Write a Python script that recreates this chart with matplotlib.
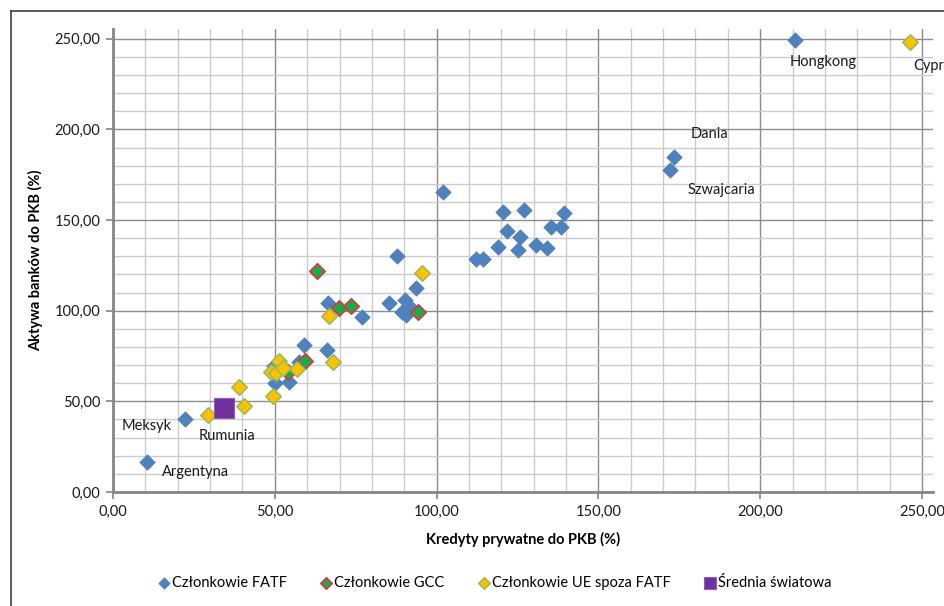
import numpy as np
import matplotlib
matplotlib.use('Agg')
from matplotlib import pyplot as plt
from matplotlib.lines import Line2D
from matplotlib.ticker import MultipleLocator, FuncFormatter

plt.rcParams['font.family'] = ['Lato', 'DejaVu Sans']

# Kredyty prywatne do PKB (%) / Aktywa banków do PKB (%)
fatf_x = [210.8, 173.3, 172.0, 10.4, 22.4, 102.0, 120.6, 126.9, 139.5, 121.7,
          125.7, 135.5, 138.4, 118.9, 125.2, 130.8, 134.0, 112.2, 114.3, 87.8,
          93.7, 85.3, 90.1, 89.4, 92.2, 90.6, 66.3, 76.9, 59.0, 66.0,
          57.5, 49.7, 50.0, 54.4]
fatf_y = [249.4, 184.8, 177.5, 16.4, 40.1, 165.4, 154.5, 155.3, 153.8, 144.2,
          140.9, 146.4, 146.4, 135.0, 133.7, 136.1, 134.7, 128.4, 128.4, 130.4,
          112.6, 104.1, 106.0, 99.5, 101.4, 97.7, 104.1, 96.6, 81.1, 78.2,
          71.6, 69.7, 60.0, 60.5]

gcc_x = [63.1, 69.8, 73.5, 94.4, 59.3, 54.0]
gcc_y = [121.8, 101.4, 102.6, 99.5, 72.3, 66.4]

ue_x = [246.4, 95.6, 66.7, 68.0, 56.9, 51.3, 48.7, 50.5, 52.4, 49.3, 38.9, 40.6, 29.5]
ue_y = [248.2, 120.7, 97.0, 71.6, 67.9, 72.3, 66.4, 65.5, 68.3, 53.1, 57.9, 47.6, 42.3]

avg_x = [34.3]
avg_y = [46.5]

# labelled countries: (name, x, y)
labels = [('Hongkong', 210.8, 249.4), ('Cypr', 246.4, 248.2), ('Dania', 173.3, 184.8),
          ('Szwajcaria', 172.0, 177.5), ('Meksyk', 22.4, 40.1), ('Rumunia', 29.5, 42.3),
          ('Argentyna', 10.4, 16.4)]
label_offsets = {'Hongkong': (-6, -22, 'left'), 'Cypr': (3, -24, 'left'),
                 'Dania': (17, 23, 'left'), 'Szwajcaria': (18, -20, 'left'),
                 'Meksyk': (-14, -7, 'right'), 'Rumunia': (-10, -21, 'left'),
                 'Argentyna': (15, -10, 'left')}

fig = plt.figure(figsize=(9.45, 6.06), dpi=100)
ax = fig.add_axes([113/945, 1-492/606, (933-113)/945, (492-29)/606])

ax.scatter(fatf_x, fatf_y, marker='D', s=62, c='#4F81BD', edgecolors='#4F81BD',
           linewidths=0.5, label='Członkowie FATF', zorder=3)
ax.scatter(gcc_x, gcc_y, marker='D', s=62, c='#1FA84A', edgecolors='#D9383A',
           linewidths=1.2, label='Członkowie GCC', zorder=3)
ax.scatter(ue_x, ue_y, marker='D', s=62, c='#FFC000', edgecolors='#9BBB59',
           linewidths=1.2, label='Członkowie UE spoza FATF', zorder=3)
ax.scatter(avg_x, avg_y, marker='s', s=200, c='#7030A0', edgecolors='#8E5DB8',
           linewidths=0.8, label='Średnia światowa', zorder=4)

for name, x, y in labels:
    dx, dy, ha = label_offsets[name]
    ax.annotate(name, (x, y), xytext=(dx, dy), textcoords='offset pixels',
                ha=ha, va='center', fontsize=10.5, color='#1a1a1a', annotation_clip=False)

ax.set_xlim(0, 253.4)
ax.set_ylim(0, 255.4)
fmt = FuncFormatter(lambda v, p: '{:.2f}'.format(v).replace('.', ','))
for axis in (ax.xaxis, ax.yaxis):
    axis.set_major_locator(MultipleLocator(50))
    axis.set_minor_locator(MultipleLocator(10))
    axis.set_major_formatter(fmt)
ax.grid(which='minor', color='#CCCCCC', linewidth=1.0, zorder=0)
ax.grid(which='major', color='#8C8C8C', linewidth=1.0, zorder=1)
ax.set_axisbelow(True)
ax.tick_params(which='major', length=5, width=1.2, color='#868686', labelsize=10.5,
               labelcolor='#1a1a1a', pad=4)
ax.tick_params(which='minor', length=0)
for side in ('top', 'right'):
    ax.spines[side].set_visible(False)
for side in ('left', 'bottom'):
    ax.spines[side].set_color('#868686')
    ax.spines[side].set_linewidth(2)

ax.set_xlabel('Kredyty prywatne do PKB (%)', fontsize=10.5, fontweight='bold', labelpad=10)
ax.set_ylabel('Aktywa banków do PKB (%)', fontsize=10.5, fontweight='bold', labelpad=8)

leg = ax.legend(loc='center', bbox_to_anchor=(0.523, 0.038), bbox_transform=fig.transFigure,
                ncol=4, frameon=False, fontsize=10.5, handletextpad=0.05,
                columnspacing=2.2, handlelength=1.0)
for h, sz in zip(leg.legend_handles, [34, 34, 34, 75]):
    h.set_sizes([sz])

# chart area border (cut at right/bottom)
fig.add_artist(Line2D([11/945, 1], [1-11/606, 1-11/606], color='#404040', lw=1.2,
                      transform=fig.transFigure))
fig.add_artist(Line2D([11/945, 11/945], [0, 1-11/606], color='#404040', lw=1.2,
                      transform=fig.transFigure))

fig.savefig('out.png', dpi=100)
